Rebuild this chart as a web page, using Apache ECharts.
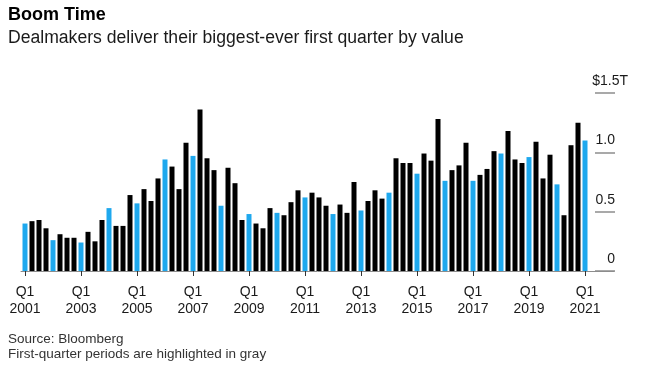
<!DOCTYPE html>
<html><head><meta charset="utf-8">
<script src="https://cdn.jsdelivr.net/npm/echarts@6/dist/echarts.min.js"></script>
<style>html,body{margin:0;padding:0;background:#fff}#c{width:647px;height:366px}</style>
</head><body><div id="c"></div>
<script>
// ---- data ----
const firstYear = 2001;
const lastYear = 2021;
const quarterNames = ['Q1', 'Q2', 'Q3', 'Q4'];
// M&A deal value per quarter, $ trillions (Q1 2001 .. Q1 2021)
const dealValues = [
  0.40, 0.42, 0.43, 0.36, // 2001
  0.26, 0.31, 0.28, 0.28, // 2002
  0.24, 0.33, 0.25, 0.43, // 2003
  0.53, 0.38, 0.38, 0.64, // 2004
  0.57, 0.69, 0.59, 0.78, // 2005
  0.94, 0.88, 0.69, 1.08, // 2006
  0.97, 1.36, 0.95, 0.85, // 2007
  0.55, 0.87, 0.74, 0.43, // 2008
  0.48, 0.40, 0.36, 0.53, // 2009
  0.49, 0.47, 0.58, 0.68, // 2010
  0.62, 0.66, 0.62, 0.55, // 2011
  0.48, 0.56, 0.49, 0.75, // 2012
  0.51, 0.59, 0.68, 0.61, // 2013
  0.66, 0.95, 0.91, 0.91, // 2014
  0.82, 0.99, 0.93, 1.28, // 2015
  0.76, 0.85, 0.89, 1.08, // 2016
  0.76, 0.81, 0.86, 1.01, // 2017
  0.99, 1.18, 0.94, 0.91, // 2018
  0.96, 1.09, 0.78, 0.98, // 2019
  0.73, 0.47, 1.06, 1.25, // 2020
  1.10                    // 2021
];
const yTickValues = [0, 0.5, 1.0, 1.5];
const yTickLabels = ['0', '0.5', '1.0', '$1.5T'];

// categories built from the year/quarter lists
const categories = [];
for (let y = firstYear; y <= lastYear; y++) {
  for (const q of quarterNames) {
    if (categories.length < dealValues.length) categories.push(q + ' ' + y);
  }
}

const FONT = 'Liberation Sans, Arial, sans-serif';
const BLUE = '#1ea8ee';
const chart = echarts.init(document.getElementById('c'), null, {renderer: 'canvas'});
const TOP = 93, BOTTOM = 95;

chart.setOption({
  animation: false,
  backgroundColor: '#fff',
  textStyle: {fontFamily: FONT},
  title: [
    {text: 'Boom Time', left: 8, top: 6, padding: 0,
     textStyle: {fontFamily: FONT, fontSize: 18, fontWeight: 'bold', color: '#000'}},
    {text: 'Dealmakers deliver their biggest-ever first quarter by value', left: 8, top: 29, padding: 0,
     textStyle: {fontFamily: FONT, fontSize: 17.6, fontWeight: 'normal', color: '#1a1a1a'}},
    {text: 'Source: Bloomberg\nFirst-quarter periods are highlighted in gray', left: 8, top: 332, padding: 0,
     textStyle: {fontFamily: FONT, fontSize: 13.5, lineHeight: 15, fontWeight: 'normal', color: '#333'}}
  ],
  grid: [
    {left: 21.5, width: 567, top: TOP, bottom: BOTTOM},
    {left: 595, right: 32, top: TOP, bottom: BOTTOM},
    {left: 21, right: 33, top: TOP, bottom: BOTTOM}
  ],
  xAxis: [
    {gridIndex: 0, type: 'category', data: categories, boundaryGap: true,
     axisLine: {show: false},
     axisTick: {show: true, alignWithLabel: true, length: 5, interval: (i) => i % 8 === 0,
                lineStyle: {color: '#333', width: 1}},
     axisLabel: {show: true, interval: (i) => i % 8 === 0, margin: 13,
                 fontFamily: FONT, fontSize: 14, lineHeight: 17, color: '#1a1a1a',
                 formatter: (v) => v.replace(' ', '\n')},
     splitLine: {show: false}},
    {gridIndex: 1, type: 'value', show: false},
    {gridIndex: 2, type: 'value', min: 0, max: 1,
     axisLine: {show: true, lineStyle: {color: '#8c8c8c', width: 1}},
     axisTick: {show: false}, axisLabel: {show: false}, splitLine: {show: false}}
  ],
  yAxis: [
    {gridIndex: 0, type: 'value', min: 0, max: 1.5, show: false},
    {gridIndex: 1, type: 'value', min: 0, max: 1.5, interval: 0.5, position: 'right',
     axisLine: {show: false}, axisTick: {show: false},
     splitLine: {show: true, lineStyle: {color: '#8c8c8c', width: 1.5}},
     axisLabel: {show: true, margin: 13, align: 'right', verticalAlign: 'bottom',
                 padding: [0, 0, 5, 0],
                 formatter: (v) => {
                   const i = yTickValues.findIndex(t => Math.abs(t - v) < 1e-9);
                   const lab = i >= 0 ? yTickLabels[i] : '';
                   return i === yTickValues.length - 1 ? '{n|' + lab + '}' : '{n|' + lab + '}{s| }';
                 },
                 rich: {
                   n: {fontFamily: FONT, fontSize: 14, color: '#1a1a1a'},
                   s: {width: 13, fontSize: 14}
                 }}},
    {gridIndex: 2, type: 'value', show: false}
  ],
  series: [{
    type: 'bar', xAxisIndex: 0, yAxisIndex: 0,
    data: dealValues, barWidth: 5,
    itemStyle: {color: (p) => categories[p.dataIndex].startsWith('Q1') ? BLUE : '#000'}
  }]
});
</script></body></html>
